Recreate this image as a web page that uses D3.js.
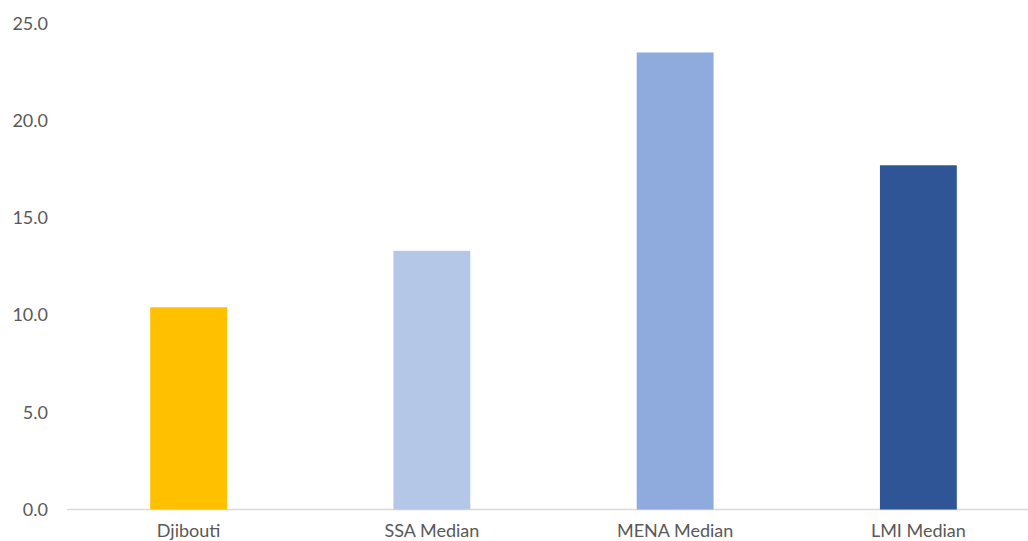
<!DOCTYPE html>
<html><head><meta charset="utf-8">
<script src="https://cdn.jsdelivr.net/npm/d3@7"></script>
<style>body{margin:0;background:#fff;}svg{display:block;}</style>
</head><body>
<svg id="chart" width="1028" height="541"></svg>
<script>
const categories = ["Djibouti", "SSA Median", "MENA Median", "LMI Median"];
const values = [10.4, 13.3, 23.5, 17.7];
const colors = ["#FFC000", "#B4C7E7", "#8FAADC", "#2F5597"];
const yTicks = [0, 5, 10, 15, 20, 25];

const svg = d3.select("#chart");
const x = d3.scaleBand().domain(categories).range([67, 1040]).paddingInner(0.684).paddingOuter(0.342);
const y = d3.scaleLinear().domain([0, 25]).range([509.5, 23.3]);
const font = "Lato, 'Open Sans', sans-serif";

svg.append("line").attr("x1", 67).attr("x2", 1028).attr("y1", y(0)).attr("y2", y(0))
  .attr("stroke", "#D9D9D9").attr("stroke-width", 1.5);

svg.selectAll("rect.bar").data(values).enter().append("rect")
  .attr("class", "bar")
  .attr("x", (d, i) => x(categories[i]))
  .attr("width", x.bandwidth())
  .attr("y", d => y(d))
  .attr("height", d => y(0) - y(d))
  .attr("fill", (d, i) => colors[i]);

const yAxis = d3.axisLeft(y).tickValues(yTicks).tickFormat(d3.format(".1f")).tickSize(0).tickPadding(0);
const gy = svg.append("g").attr("transform", "translate(48,0)").call(yAxis);
gy.select(".domain").remove();
gy.selectAll("text").attr("fill", "#595959").style("font-family", font).style("font-size", "18px");

const xAxis = d3.axisBottom(x).tickSize(0).tickPadding(0);
const gx = svg.append("g").attr("transform", `translate(0,${y(0) + 15})`).call(xAxis);
gx.select(".domain").remove();
gx.selectAll("text").attr("fill", "#595959").style("font-family", font).style("font-size", "18px");
</script>
</body></html>
